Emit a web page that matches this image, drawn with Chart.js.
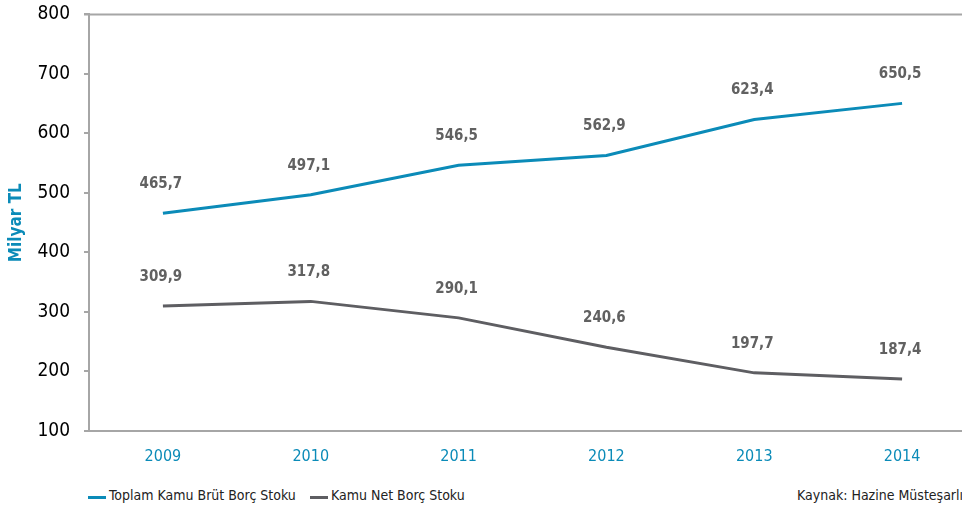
<!DOCTYPE html>
<html lang="tr">
<head>
  <meta charset="UTF-8">
  <title>Kamu Borç Stoku</title>
  <script src="https://cdn.jsdelivr.net/npm/chart.js"></script>
  <style>
    html, body {
      margin: 0;
      padding: 0;
      background: #fff;
      overflow: hidden;
      width: 962px;
      height: 515px;
    }
    .chart-box {
      position: relative;
      width: 976px;
      height: 481px;
      margin-top: -11px;
    }
    .legend {
      position: absolute;
      top: 487px;
      left: 0;
      width: 1000px;
      height: 24px;
      font-family: "DejaVu Sans", sans-serif;
      font-stretch: condensed;
      font-size: 14px;
      color: #222;
    }
    .legend-item {
      position: absolute;
      top: 0;
      white-space: nowrap;
    }
    .legend-item .mark {
      display: inline-block;
      width: 18px;
      height: 3px;
      margin-right: 3px;
      vertical-align: 1px;
    }
    .source {
      position: absolute;
      top: 0;
      left: 797px;
      white-space: nowrap;
    }
  </style>
</head>
<body>
  <div class="chart-box">
    <canvas id="debtChart"></canvas>
  </div>
  <div class="legend">
    <div class="legend-item" style="left:88px"><span class="mark" style="background:#0b8bb8"></span>Toplam Kamu Brüt Borç Stoku</div>
    <div class="legend-item" style="left:310px"><span class="mark" style="background:#5e5e62"></span>Kamu Net Borç Stoku</div>
    <div class="source">Kaynak: Hazine Müsteşarlığı</div>
  </div>

  <script>
    const years = ['2009', '2010', '2011', '2012', '2013', '2014'];
    const grossDebt = [465.7, 497.1, 546.5, 562.9, 623.4, 650.5];
    const netDebt = [309.9, 317.8, 290.1, 240.6, 197.7, 187.4];

    const fontFamily = '"DejaVu Sans", sans-serif';
    const teal = '#0b8bb8';
    const gray = '#5e5e62';
    const axisGray = '#a6a6a6';

    // value labels above each point, Turkish decimal comma
    const valueLabels = {
      id: 'valueLabels',
      afterDatasetsDraw(chart) {
        const ctx = chart.ctx;
        ctx.save();
        ctx.font = 'bold condensed 15px ' + fontFamily;
        ctx.fillStyle = '#616161';
        ctx.textAlign = 'center';
        ctx.textBaseline = 'middle';
        chart.data.datasets.forEach((ds, i) => {
          chart.getDatasetMeta(i).data.forEach((pt, j) => {
            ctx.fillText(ds.data[j].toFixed(1).replace('.', ','), pt.x - 2, pt.y - 29);
          });
        });
        ctx.restore();
      }
    };

    // top border of the plot
    const topBorder = {
      id: 'topBorder',
      beforeDatasetsDraw(chart) {
        const { ctx, chartArea } = chart;
        ctx.save();
        ctx.strokeStyle = axisGray;
        ctx.lineWidth = 2;
        ctx.beginPath();
        ctx.moveTo(chartArea.left - 5, chartArea.top);
        ctx.lineTo(chartArea.right, chartArea.top);
        ctx.stroke();
        ctx.restore();
      }
    };

    new Chart(document.getElementById('debtChart'), {
      type: 'line',
      data: {
        labels: years,
        datasets: [
          {
            label: 'Toplam Kamu Brüt Borç Stoku',
            data: grossDebt,
            borderColor: teal,
            borderWidth: 3,
            pointRadius: 0,
            tension: 0
          },
          {
            label: 'Kamu Net Borç Stoku',
            data: netDebt,
            borderColor: gray,
            borderWidth: 3,
            pointRadius: 0,
            tension: 0
          }
        ]
      },
      options: {
        responsive: true,
        maintainAspectRatio: false,
        animation: false,
        layout: { padding: { top: 3, right: 0, left: 0, bottom: 0 } },
        plugins: {
          legend: { display: false },
          tooltip: { enabled: false }
        },
        scales: {
          x: {
            offset: true,
            grid: { display: false },
            border: { color: axisGray, width: 2 },
            ticks: {
              color: teal,
              // stretch keyword goes in weight, Chart.js rejects it as style
              font: { family: fontFamily, size: 16, weight: 'condensed' },
              padding: 8
            },
            afterFit(scale) { scale.height = 39; }
          },
          y: {
            min: 100,
            max: 800,
            grid: {
              drawOnChartArea: false,
              drawTicks: true,
              tickLength: 5,
              color: axisGray,
              lineWidth: 2
            },
            border: { color: axisGray, width: 2 },
            ticks: {
              stepSize: 100,
              color: '#000000',
              font: { family: fontFamily, size: 19, weight: 'condensed' },
              padding: 14
            },
            title: {
              display: true,
              text: 'Milyar TL',
              color: teal,
              font: { family: fontFamily, size: 17, weight: 'bold condensed' },
              padding: { top: 6, bottom: 0 }
            },
            afterFit(scale) { scale.width = 89; }
          }
        }
      },
      plugins: [valueLabels, topBorder]
    });
  </script>
</body>
</html>
